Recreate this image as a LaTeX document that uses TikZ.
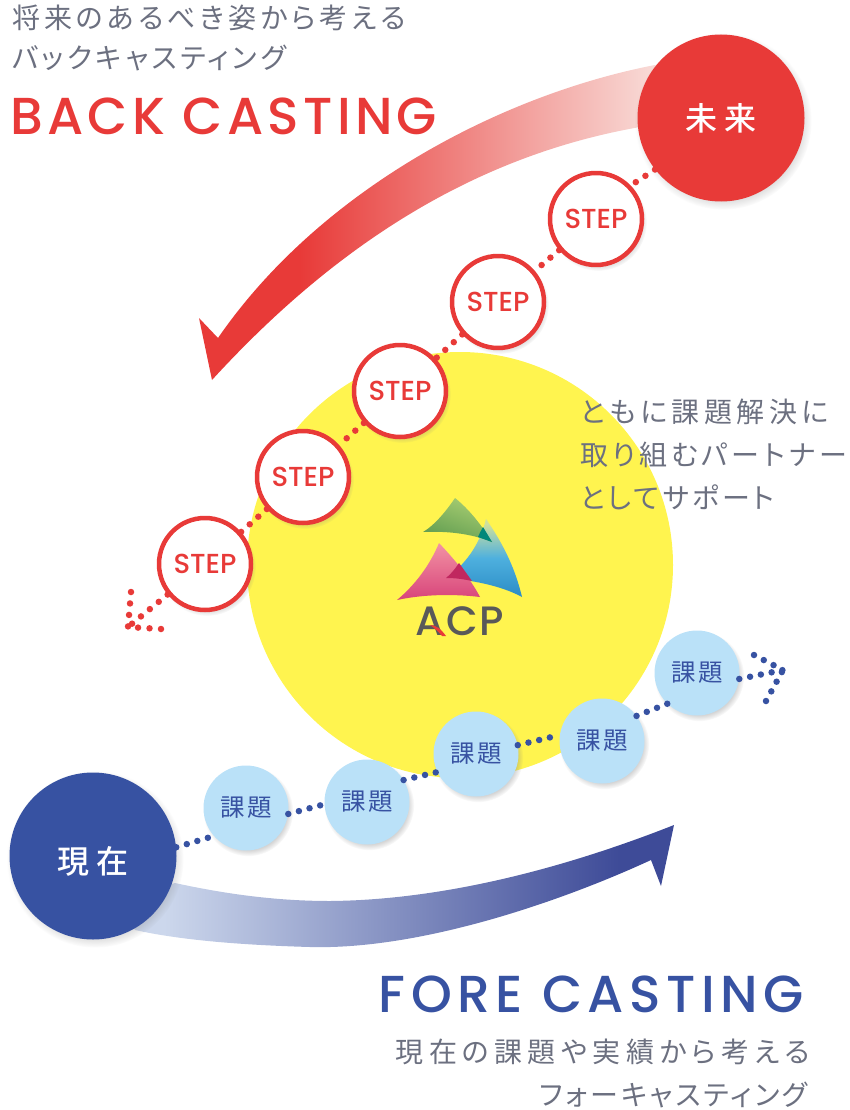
\documentclass[tikz,border=0pt]{standalone}
\usepackage{fontspec}
\usepackage{xcolor}
\usetikzlibrary{shadows}
\newfontfamily\jpfont[RawFeature={+palt}]{Noto Sans CJK JP}
\newfontfamily\jpmedium[RawFeature={+palt}]{Noto Sans CJK JP Medium}
\newfontfamily\latinfont{Poppins Medium}
\newcommand{\spaced}[1]{\addfontfeature{LetterSpace=#1}}
\definecolor{backred}{HTML}{E83A38}
\definecolor{backpale}{HTML}{F9E2DE}
\definecolor{foreblue}{HTML}{3752A2}
\definecolor{foredark}{HTML}{3E4B98}
\definecolor{forepale}{HTML}{CCD7EC}
\definecolor{sunyellow}{HTML}{FFF44F}
\definecolor{taskblue}{HTML}{BAE1F8}
\definecolor{graytext}{HTML}{6C7080}
\definecolor{logoPinkA}{HTML}{F292A4}
\definecolor{logoPinkB}{HTML}{D8447A}
\definecolor{logoGreenA}{HTML}{A9CE72}
\definecolor{logoGreenB}{HTML}{5F9C50}
\definecolor{logoPaleA}{HTML}{CFE09E}
\definecolor{logoBlueA}{HTML}{4EB0DE}
\definecolor{logoBlueB}{HTML}{2E8FC8}
\definecolor{logoTeal}{HTML}{00877A}
\definecolor{logoCrimson}{HTML}{C0285F}
\pgfdeclarehorizontalshading{backfade}{100bp}{color(0bp)=(backred); color(35bp)=(backred); color(72bp)=(backpale); color(100bp)=(backpale)}
\pgfdeclarehorizontalshading{forefade}{100bp}{color(0bp)=(forepale); color(29bp)=(forepale); color(70bp)=(foredark); color(100bp)=(foredark)}
\pgfdeclareverticalshading{logofade}{100bp}{color(0bp)=(logoBlueB); color(27bp)=(logoBlueB); color(50bp)=(logoBlueA); color(72bp)=(logoPaleA); color(100bp)=(logoPaleA)}
\tikzset{
  softshadow/.style={circular drop shadow={shadow scale=1.06,shadow xshift=2pt,shadow yshift=-3pt,opacity=.35}},
  bigcircle/.style={circle,minimum size=167pt,inner sep=0pt,softshadow,text=white,font=\jpmedium\fontsize{32}{32}\selectfont\spaced{24}},
  stepcircle/.style={circle,draw=backred,line width=4.5pt,fill=white,minimum size=92pt,inner sep=0pt,softshadow,text=backred,font=\latinfont\fontsize{27.5}{28}\selectfont},
  taskcircle/.style={circle,fill=taskblue,minimum size=85pt,inner sep=0pt,softshadow,text=foreblue,font=\jpfont\fontsize{24.5}{25}\selectfont\spaced{10}},
  reddots/.style={draw=backred,line width=6.5pt,line cap=round,dash pattern=on 0pt off 11.5pt},
  bluedots/.style={draw=foreblue,line width=6.5pt,line cap=round,dash pattern=on 0pt off 11pt},
  jptext/.style={inner sep=0pt,text=graytext,font=\jpfont\fontsize{28}{43}\selectfont},
  titletext/.style={inner sep=0pt,font=\latinfont\fontsize{52}{52}\selectfont}
}
\begin{document}
\begin{tikzpicture}[line cap=round,line join=round,x=1pt,y=-1pt]
\useasboundingbox (0,0) rectangle (850,1110);
%big yellow disc and both sweeping arrows
\fill[sunyellow] (460,565) circle (213);
\shade[shading=backfade] (199,318) -- (218,338) .. controls (320,190) and (500,95) .. (655,65)
  -- (700,110) -- (640,127) .. controls (480,155) and (340,240) .. (212,380) -- cycle;
\shade[shading=forefade] (661,886) -- (651,860) .. controls (560,902) and (420,950) .. (310,947)
  .. controls (240,945) and (180,940) .. (135,930) -- (120,900) -- (175,883)
  .. controls (230,895) and (280,901) .. (330,901) .. controls (440,900) and (560,870) .. (674,825) -- cycle;
%logo
\shade[shading=logofade] (486,519) .. controls (506,548) and (516,572) .. (522,597)
  .. controls (500,585) and (470,580) .. (446,578) .. controls (464,566) and (480,545) .. (486,519) -- cycle;
\shade[top color=logoGreenA,bottom color=logoGreenB,shading angle=-20] (455,498) .. controls (470,510) and (482,526) .. (492,542)
  .. controls (470,533) and (445,531) .. (423,532) .. controls (435,525) and (447,510) .. (455,498) -- cycle;
\fill[logoTeal] (483,527) -- (492,542) -- (478,537) .. controls (479,534) and (481,531) .. (483,527) -- cycle;
\shade[top color=logoPinkA,bottom color=logoPinkB] (439,543) .. controls (455,560) and (470,578) .. (480,597)
  .. controls (455,594) and (425,594) .. (397,600) .. controls (415,585) and (430,565) .. (439,543) -- cycle;
\fill[logoCrimson] (459,563) -- (472,581) .. controls (463,579) and (455,578) .. (446,578) .. controls (451,574) and (455,569) .. (459,563) -- cycle;
\node (logoText) at (460,621) [inner sep=0pt,text=black!65,font=\latinfont\fontsize{41}{41}\selectfont\spaced{5}] {ACP};
\fill[backred] (430,625) .. controls (436,625) and (441,629) .. (446,636) -- (442,636) .. controls (438,631) and (434,628) .. (430,625) -- cycle;
%all the circles
\node[bigcircle,fill=backred] (future) at (721,118) {未来};
\node[bigcircle,fill=foreblue] (present) at (93,856) {\raisebox{-17pt}[0pt][0pt]{現在}};
\foreach \n/\px/\py in {1/596/219,2/498/302,3/400/391,4/303/477,5/205/564}
  \node[stepcircle] (step\n) at (\px,\py) {STEP};
\foreach \n/\px/\py in {1/246/808,2/367/802,3/476/754,4/602/741,5/697/673}
  \node[taskcircle] (task\n) at (\px,\py) {課題};
%dotted connectors
\coordinate (stepTip) at (128,627);
\coordinate (stepBarbA) at (131,592);
\coordinate (stepBarbB) at (161,629);
\coordinate (taskTip) at (783,670);
\coordinate (taskBarbA) at (754,655);
\coordinate (taskBarbB) at (766,701);
\draw[reddots] (future.218) -- (step1.44);
\foreach \a/\b in {1/2,2/3,3/4,4/5}
  \draw[reddots] (step\a) -- (step\b);
\draw[reddots] (step5) -- (stepTip);
\draw[reddots] (stepBarbA) -- (stepTip);
\draw[reddots] (stepBarbB) -- (stepTip);
\draw[bluedots] (present.6) -- (task1.221);
\draw[bluedots] (task1.-8) -- (task2.183);
\draw[bluedots] (task2.31) -- (task3.205);
\draw[bluedots] (task3.12) -- (task4.172);
\draw[bluedots] (task4.36) -- (task5.226);
\draw[bluedots] (task5.-8) -- (taskTip);
\draw[bluedots] (taskBarbA) -- (taskTip);
\draw[bluedots] (taskBarbB) -- (taskTip);
%texts
\node[jptext,anchor=west] (backLineA) at (12,18) {\spaced{14.3}将来のあるべき姿から考える};
\node[jptext,anchor=west] (backLineB) at (12,58) {\spaced{12}バックキャスティング};
\node[titletext,anchor=west,text=backred] (backTitle) at (10,116) {\spaced{8.2}BACK CASTING};
\node[jptext,anchor=west,align=left] (support) at (580,454) {\spaced{16}ともに課題解決に\\\spaced{14}取り組むパートナー\\\spaced{11}としてサポート};
\node[titletext,anchor=east,text=foreblue] (foreTitle) at (804,994) {\spaced{10.6}FORE CASTING};
\node[jptext,anchor=east] (foreLineA) at (810,1052) {\spaced{19}現在の課題や実績から考える};
\node[jptext,anchor=east] (foreLineB) at (808,1095) {\spaced{10}フォーキャスティング};
\end{tikzpicture}
\end{document}
